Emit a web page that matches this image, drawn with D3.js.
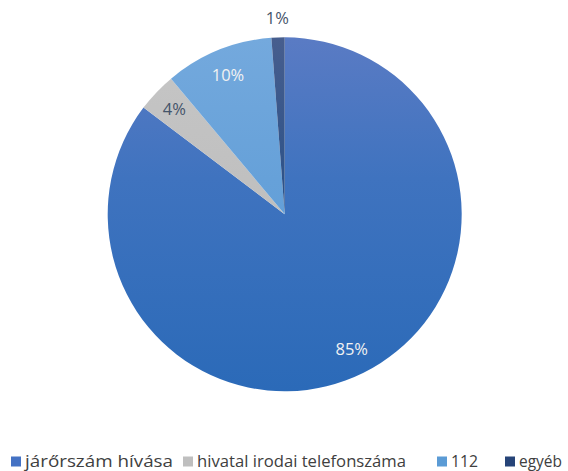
<!DOCTYPE html>
<html><head><meta charset="utf-8">
<script src="https://cdn.jsdelivr.net/npm/d3@7"></script>
<style>body{margin:0;background:#fff}svg{display:block}</style>
</head><body>
<svg id="c" width="568" height="471"></svg>
<script>
const categories = ["járőrszám hívása", "hivatal irodai telefonszáma", "112", "egyéb"];
const values = [85.3, 3.6, 9.9, 1.2];
const labels = ["85%", "4%", "10%", "1%"];
const colorsTop = ["#5A7BC4", "#C6C6C6", "#74A9DD", "#475E8E"];
const colorsMid = ["#3F73BF", "#C0C0C0", "#66A1D9", "#2F5389"];
const colorsBot = ["#2B6AB8", "#BBBBBB", "#5A9AD5", "#1E4D88"];
const legendColors = ["#4472C4", "#BFBFBF", "#5B9BD5", "#264478"];

const svg = d3.select("#c");
const cx = 284.7, cy = 214.3, r = 177;
const defs = svg.append("defs");
categories.forEach((c, i) => {
  const g = defs.append("linearGradient").attr("id", "g" + i)
    .attr("gradientUnits", "userSpaceOnUse")
    .attr("x1", 0).attr("y1", -r).attr("x2", 0).attr("y2", r);
  g.append("stop").attr("offset", 0).attr("stop-color", colorsTop[i]);
  g.append("stop").attr("offset", 0.4).attr("stop-color", colorsMid[i]);
  g.append("stop").attr("offset", 1).attr("stop-color", colorsBot[i]);
});

const data = categories.map((c, i) => ({ c, v: values[i], l: labels[i], i }));
const pie = d3.pie().value(d => d.v).sort(null);
const arcs = pie(data);
const arc = d3.arc().innerRadius(0).outerRadius(r);
const g = svg.append("g").attr("transform", `translate(${cx},${cy})`);
g.selectAll("path").data(arcs).join("path")
  .attr("d", arc).attr("fill", d => `url(#g${d.data.i})`);

// labels
const radFrac = [0.85, 0.86, 0.85, 1.11];
const labelColor = ["#F2F2F2", "#44546A", "#F2F2F2", "#44546A"];
g.selectAll("text.lbl").data(arcs).join("text").attr("class", "lbl")
  .attr("transform", d => {
    const rr = r * radFrac[d.data.i];
    return `translate(${d3.arc().innerRadius(rr).outerRadius(rr).centroid(d)})`;
  })
  .attr("text-anchor", "middle").attr("dy", "0.35em")
  .attr("font-family", "'Open Sans', sans-serif")
  .attr("font-size", 16.5).attr("fill", d => labelColor[d.data.i])
  .text(d => d.data.l);

// legend
const legX = [11, 183, 437, 505];
const legW = [148, 209, 27, 43];
const lg = svg.append("g");
categories.forEach((c, i) => {
  lg.append("rect").attr("x", legX[i]).attr("y", 456.5).attr("width", 10).attr("height", 10)
    .attr("fill", legendColors[i]);
  lg.append("text").attr("x", legX[i] + 14).attr("y", 466.5)
    .attr("font-family", "'Open Sans', sans-serif")
    .attr("font-size", 17).attr("fill", "#404040")
    .attr("textLength", legW[i]).attr("lengthAdjust", "spacingAndGlyphs")
    .text(c);
});
</script>
</body></html>
